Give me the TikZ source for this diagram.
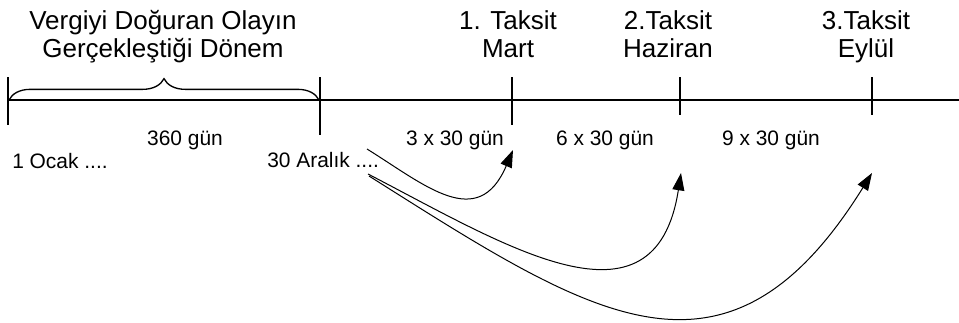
\documentclass[tikz,border=0pt]{standalone}
\usepackage{fontspec}
\setmainfont{Liberation Sans}
\usetikzlibrary{arrows.meta, decorations.pathreplacing}
\tikzset{
  eksen/.style={line width=1.1pt},
  kume/.style={line width=1pt, decorate, decoration={brace, amplitude=16pt}},
  baslik/.style={font=\fontsize{19.5}{21}\selectfont, align=center, anchor=base, inner sep=0pt},
  gun/.style={font=\fontsize{15.7}{18}\selectfont, anchor=base, inner sep=0pt},
  vade/.style={line width=0.75pt, ->}
}

\begin{document}
\begin{tikzpicture}[x=0.75pt, y=-0.75pt, >={Triangle[length=13pt, width=9pt]}]
  \useasboundingbox (0,0) rectangle (959,322);
  % zaman ekseni ve cizgiler
  \draw[eksen] (8,100) -- (959,100);
  \draw[eksen] (8,77) -- (8,125);
  \draw[eksen] (320,77) -- (320,135);
  \draw[eksen] (512,77) -- (512,125);
  \draw[eksen] (680,77) -- (680,115);
  \draw[eksen] (872,77) -- (872,115);
  \draw[kume] (9,100) -- (319,100);
  %
  \node[baslik] (donem) at (163,57) {Vergiyi Doğuran Olayın\\Gerçekleştiği Dönem};
  \node[baslik] (mart) at (508,57) {1. Taksit\\Mart};
  \node[baslik] (haziran) at (668,57) {2.Taksit\\Haziran};
  \node[baslik] (eylul) at (866,57) {3.Taksit\\Eylül};
  %
  \node[gun] (g360) at (185,145) {360 gün};
  \node[gun] (g3) at (455,145) {3 x 30 gün};
  \node[gun] (g6) at (605,145) {6 x 30 gün};
  \node[gun] (g9) at (771,145) {9 x 30 gün};
  \node[gun, anchor=base west] (ocak) at (12,168) {1 Ocak ....};
  \node[gun, anchor=base west] (aralik) at (267,167) {30 Aralık ....};
  %
  \coordinate (a1) at (367,149);
  \coordinate (a2) at (368,174);
  \coordinate (a3) at (369,176);
  \coordinate (m1) at (513,150);
  \coordinate (m2) at (681,173);
  \coordinate (m3) at (872,173);
  \draw[vade] (a1) .. controls (425,185) and (478,232) .. (m1);
  \draw[vade] (a2) .. controls (505,245) and (655,340) .. (m2);
  \draw[vade] (a3) .. controls (591,316) and (726,408) .. (m3);
\end{tikzpicture}
\end{document}
